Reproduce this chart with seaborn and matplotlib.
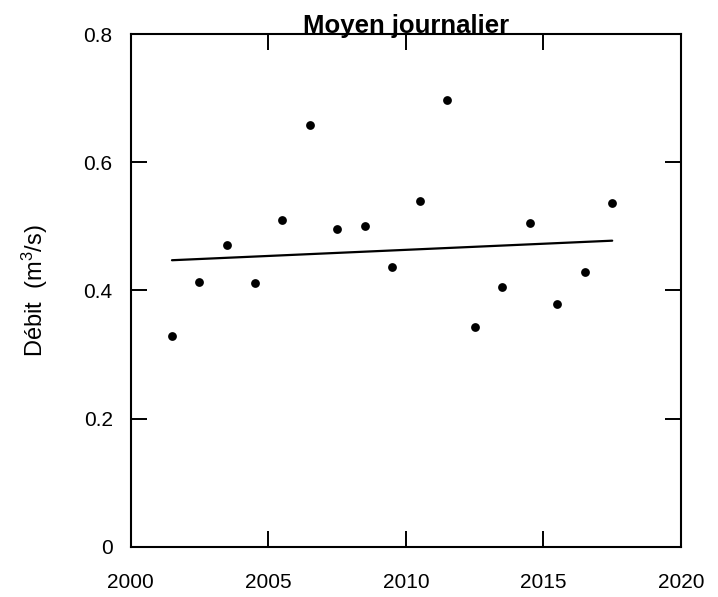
import matplotlib
matplotlib.use("Agg")
import matplotlib.pyplot as plt
import seaborn as sns
import pandas as pd

years = [2001.5, 2002.5, 2003.5, 2004.5, 2005.5, 2006.5, 2007.5, 2008.5, 2009.5,
         2010.5, 2011.5, 2012.5, 2013.5, 2014.5, 2015.5, 2016.5, 2017.5]
debit = [0.328, 0.413, 0.470, 0.411, 0.509, 0.658, 0.495, 0.500, 0.437,
         0.540, 0.697, 0.343, 0.406, 0.505, 0.378, 0.428, 0.537]
trend_years = [2001.5, 2017.5]
trend_values = [0.447, 0.4775]
x_ticks = [2000, 2005, 2010, 2015, 2020]
y_ticks = [0, 0.2, 0.4, 0.6, 0.8]
y_tick_labels = ["0", "0.2", "0.4", "0.6", "0.8"]

sns.set_theme(style="white")
plt.rcParams["font.family"] = ["Liberation Sans", "DejaVu Sans"]
plt.rcParams["mathtext.fontset"] = "custom"
plt.rcParams["mathtext.rm"] = "Liberation Sans"
plt.rcParams["mathtext.it"] = "Liberation Sans:italic"
plt.rcParams["text.color"] = "black"
plt.rcParams["axes.labelcolor"] = "black"

df = pd.DataFrame({"year": years, "debit": debit})
tr = pd.DataFrame({"year": trend_years, "val": trend_values})

fig = plt.figure(figsize=(7.18, 5.97), dpi=100)
ax = fig.add_axes([130.7 / 718, (597 - 546.7) / 597, (681 - 130.7) / 718, (546.7 - 34) / 597])

sns.lineplot(data=tr, x="year", y="val", ax=ax, color="black", linewidth=1.6)
sns.scatterplot(data=df, x="year", y="debit", ax=ax, color="black", s=40,
                edgecolor="black", linewidth=0, zorder=3)

ax.set_xlim(2000, 2020)
ax.set_ylim(0, 0.8)
ax.set_xticks(x_ticks)
ax.set_xticklabels([str(v) for v in x_ticks])
ax.set_yticks(y_ticks)
ax.set_yticklabels(y_tick_labels)
ax.tick_params(direction="in", length=11.5, width=1.4, colors="black",
               labelsize=15, labelcolor="black", top=True, right=True, bottom=True, left=True)
ax.tick_params(axis="x", pad=19)
ax.tick_params(axis="y", pad=13)
for sp in ax.spines.values():
    sp.set_visible(True)
    sp.set_color("black")
    sp.set_linewidth(1.5)

ax.set_xlabel("")
ax.set_ylabel("Débit  (m$^3$/s)", fontsize=17, labelpad=24, color="black")
ax.set_title("Moyen journalier", fontsize=18.5, fontweight="bold", pad=1, color="black")

fig.savefig("out.png", dpi=100, facecolor="white")
